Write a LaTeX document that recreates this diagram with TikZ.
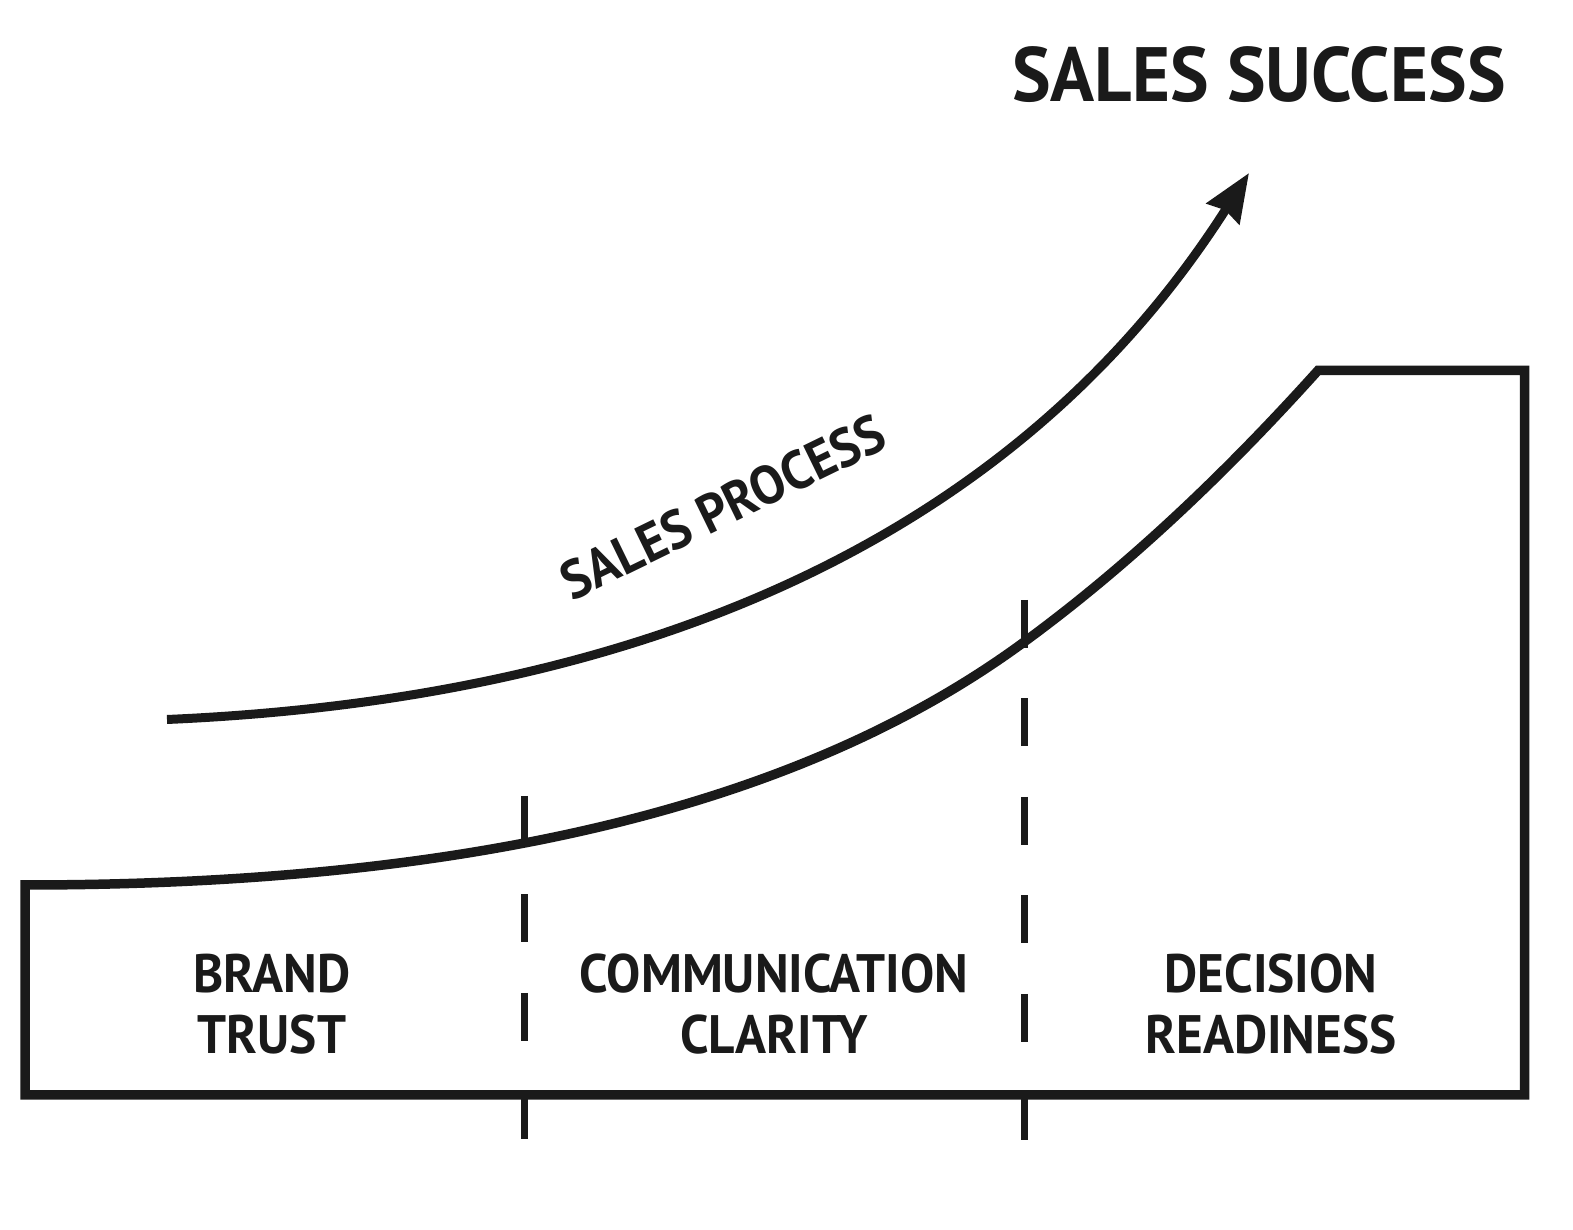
\documentclass[tikz,border=0pt]{standalone}
\usepackage{fontspec}
\setmainfont{PT Sans}[FakeStretch=0.946]
\usepackage{tikz}
\usetikzlibrary{positioning}
\usetikzlibrary{arrows.meta}
\definecolor{ink}{HTML}{1A1A1A}

\begin{document}
\begin{tikzpicture}[
    label/.style={font=\fontsize{15.4}{17.3}\selectfont\bfseries, text=ink, align=center, inner sep=0pt},
    stage/.style={draw=ink, line width=0.075cm, dash pattern=on 0.48cm off 0.505cm}]
      \useasboundingbox (0,0) rectangle (15.73,12.30);
      % the stages block
      \draw[ink, line width=0.095cm, line join=miter] (0.25,3.45) -- (0.25,1.35) -- (15.245,1.35) -- (15.245,8.595) -- (13.18,8.595)
        .. controls (12.277,7.592) and (11.292,6.644) .. (10.20,5.85)
        .. controls (7.773,4.086) and (4.25,3.45) .. cycle;
      \draw[stage] (5.244,4.34) -- (5.244,0.90);
      \draw[stage] (10.243,6.30) -- (10.243,0.90);
      \node[label] (brand) at (2.72,2.26) {BRAND\\TRUST};
      \node[label] (clarity) at (7.74,2.26) {COMMUNICATION\\CLARITY};
      \node[label] (readiness) at (12.71,2.26) {DECISION\\READINESS};
      % the process arrow
      \coordinate (start) at (1.67,5.105);
      \coordinate (goal) at (12.49,10.57);
      \draw[ink, line width=0.09cm, -{Stealth[length=0.48cm,width=0.38cm,inset=0.04cm]}]
        (start) .. controls (6.17,5.30) and (10.06,6.76) .. (goal);
      \node[label, rotate=26] (process) at (7.23,7.23) {SALES PROCESS};
      \node[label, font=\fontsize{21.9}{24}\selectfont\bfseries] (success) at (12.59,11.55) {SALES SUCCESS};
\end{tikzpicture}
\end{document}
